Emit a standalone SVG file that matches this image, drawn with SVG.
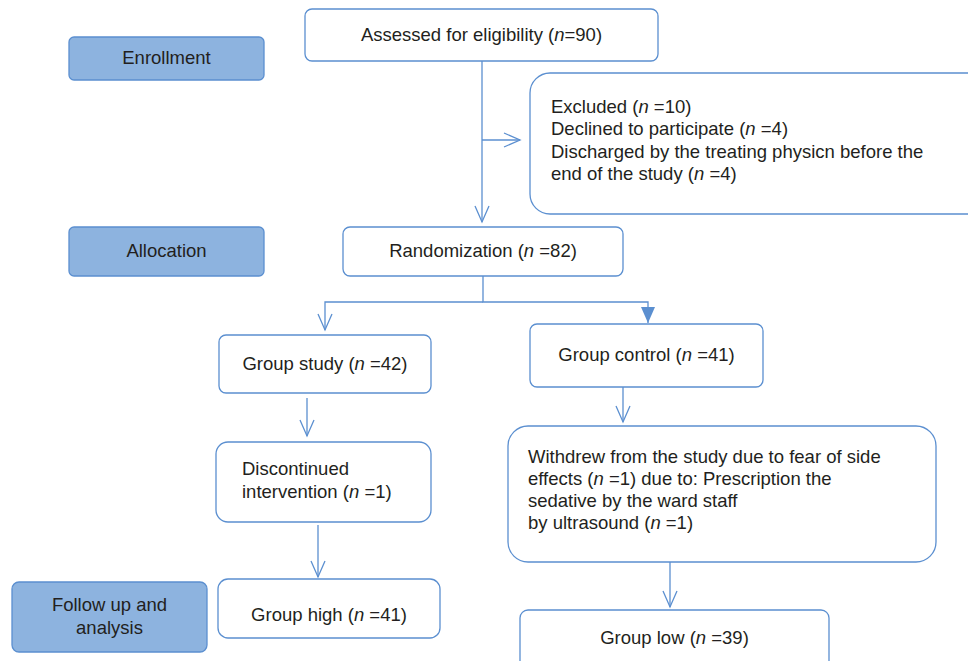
<svg xmlns="http://www.w3.org/2000/svg" width="968" height="661" viewBox="0 0 968 661">
<style>
text{font-family:"Liberation Sans",Arial,sans-serif;font-size:18.5px;fill:#231f20}
.box{fill:#fff;stroke:#5b8fd0;stroke-width:1.3}
.lab{fill:#8db3df;stroke:#5b8fd0;stroke-width:1.3}
.ln{fill:none;stroke:#5b8fd0;stroke-width:1.3}
.c{text-anchor:middle}
</style>
<defs>
<marker id="open" viewBox="0 0 20 20" refX="18" refY="10" markerWidth="20" markerHeight="20" markerUnits="userSpaceOnUse" orient="auto">
<path d="M2,3 L18,10 L2,17" fill="none" stroke="#5b8fd0" stroke-width="1.3"/>
</marker>
</defs>
<g id="connectors">
<path class="ln" d="M482,61 V222" marker-end="url(#open)"/>
<path class="ln" d="M482,140 H520" marker-end="url(#open)"/>
<path class="ln" d="M483,276 V302 H648 V323"/>
<path d="M641,307 L655,307 L648,323 Z" fill="#5b8fd0"/>
<path class="ln" d="M483,302 H325 V330" marker-end="url(#open)"/>
<path class="ln" d="M307,398 V436" marker-end="url(#open)"/>
<path class="ln" d="M623,387 V422" marker-end="url(#open)"/>
<path class="ln" d="M318,525 V577" marker-end="url(#open)"/>
<path class="ln" d="M670,562 V607" marker-end="url(#open)"/>
</g>
<g id="enrollment"><rect class="lab" x="69" y="37" width="195" height="43" rx="5"/><text class="c" x="166.5" y="64">Enrollment</text></g>
<g id="allocation"><rect class="lab" x="69" y="227" width="195" height="49" rx="5"/><text class="c" x="166.5" y="257">Allocation</text></g>
<g id="followup"><rect class="lab" x="12" y="582" width="195" height="70" rx="7"/><text class="c" x="109.5" y="611">Follow up and</text><text class="c" x="109.5" y="634">analysis</text></g>
<g id="assessed"><rect class="box" x="305" y="9" width="353" height="52" rx="7"/><text class="c" x="481.5" y="41">Assessed for eligibility (<tspan font-style="italic">n</tspan>=90)</text></g>
<g id="excluded"><rect class="box" x="530" y="73" width="460" height="141" rx="20"/>
<text x="551" y="113">Excluded (<tspan font-style="italic">n</tspan> =10)</text>
<text x="551" y="135">Declined to participate (<tspan font-style="italic">n</tspan> =4)</text>
<text x="551" y="158">Discharged by the treating physicn before the</text>
<text x="551" y="180">end of the study (<tspan font-style="italic">n</tspan> =4)</text></g>
<g id="randomization"><rect class="box" x="343" y="227" width="280" height="49" rx="7"/><text class="c" x="483" y="257">Randomization (<tspan font-style="italic">n</tspan> =82)</text></g>
<g id="groupstudy"><rect class="box" x="219" y="335" width="212" height="58" rx="7"/><text class="c" x="325" y="370">Group study (<tspan font-style="italic">n</tspan> =42)</text></g>
<g id="groupcontrol"><rect class="box" x="530" y="324" width="233" height="63" rx="7"/><text class="c" x="646.5" y="361">Group control (<tspan font-style="italic">n</tspan> =41)</text></g>
<g id="discontinued"><rect class="box" x="216" y="442" width="215" height="80" rx="12"/>
<text x="242" y="475">Discontinued</text>
<text x="242" y="498">intervention (<tspan font-style="italic">n</tspan> =1)</text></g>
<g id="withdrew"><rect class="box" x="508" y="426" width="428" height="136" rx="20"/>
<text x="528" y="463">Withdrew from the study due to fear of side</text>
<text x="528" y="485">effects (<tspan font-style="italic">n</tspan> =1) due to: Prescription the</text>
<text x="528" y="507">sedative by the ward staff</text>
<text x="528" y="529">by ultrasound (<tspan font-style="italic">n</tspan> =1)</text></g>
<g id="grouphigh"><rect class="box" x="218" y="579" width="222" height="59" rx="10"/><text class="c" x="329" y="621">Group high (<tspan font-style="italic">n</tspan> =41)</text></g>
<g id="grouplow"><rect class="box" x="520" y="610" width="309" height="70" rx="8"/><text class="c" x="674.5" y="644">Group low (<tspan font-style="italic">n</tspan> =39)</text></g>
</svg>
